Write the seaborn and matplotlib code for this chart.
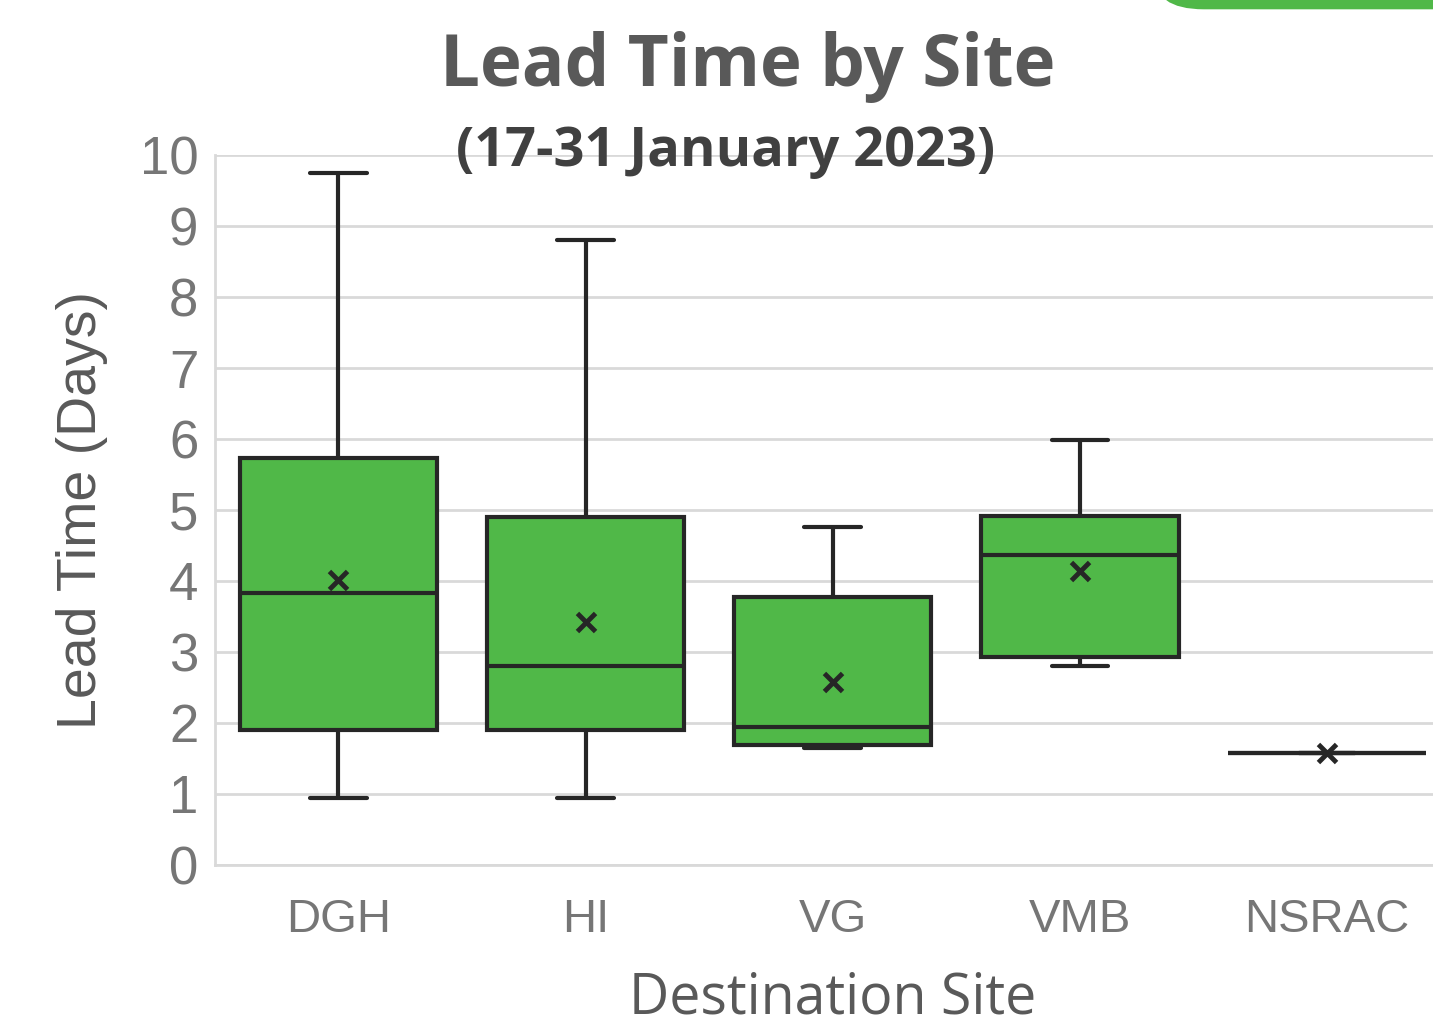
import numpy as np
import pandas as pd
import matplotlib.pyplot as plt
import seaborn as sns
from matplotlib.patches import FancyBboxPatch

# Box statistics (days)
sites = ["DGH", "HI", "VG", "VMB", "NSRAC"]
whisker_low = [0.94, 0.94, 1.65, 2.80, 1.58]
q1 = [1.90, 1.90, 1.69, 2.93, 1.58]
median = [3.83, 2.80, 1.94, 4.37, 1.58]
q3 = [5.73, 4.90, 3.77, 4.92, 1.58]
whisker_high = [9.75, 8.80, 4.76, 5.99, 1.58]
mean = [4.01, 3.42, 2.58, 4.14, 1.58]

GREEN = "#50B848"
DARK = "#262626"
GREY_TXT = "#767676"
TITLE_GREY = "#595959"

# five points per site -> min, q1, median, q3, max with linear percentiles
rows = []
for i, s in enumerate(sites):
    for v in (whisker_low[i], q1[i], median[i], q3[i], whisker_high[i]):
        rows.append({"site": s, "days": v})
df = pd.DataFrame(rows)

sns.set_theme(style="whitegrid")
plt.rcParams["font.family"] = ["Liberation Sans", "DejaVu Sans"]

fig = plt.figure(figsize=(14.33, 10.35), dpi=100)
ax = fig.add_axes([0.150, 0.1643, 0.85, 0.6859])

sns.boxplot(data=df, x="site", y="days", order=sites, whis=(0, 100),
            color=GREEN, linecolor=DARK, linewidth=3, width=0.8,
            saturation=1, showfliers=False, ax=ax)

# shorter whisker caps, as in the original
for ln in ax.lines:
    xs, ys = np.asarray(ln.get_xdata(), float), np.asarray(ln.get_ydata(), float)
    if len(xs) == 2 and ys[0] == ys[1] and abs(abs(xs[1] - xs[0]) - 0.4) < 0.01:
        c = xs.mean()
        ln.set_xdata([c - 0.114, c + 0.114])

sns.scatterplot(x=sites, y=mean, marker="x", s=170, color=DARK,
                linewidth=3.5, zorder=5, ax=ax)

ax.set_ylim(0, 10)
ax.set_xlim(-0.5, 4.43)
ax.set_yticks(range(0, 11))
ax.set_facecolor("white")
ax.grid(axis="y", color="#D9D9D9", linewidth=2)
ax.grid(axis="x", visible=False)
for side in ["top", "right"]:
    ax.spines[side].set_visible(False)
for side in ["left", "bottom"]:
    ax.spines[side].set_visible(True)
    ax.spines[side].set_color("#D9D9D9")
    ax.spines[side].set_linewidth(2)
ax.tick_params(axis="x", length=0, labelsize=34, labelcolor=GREY_TXT, pad=24)
ax.tick_params(axis="y", length=0, labelsize=38, labelcolor=GREY_TXT, pad=12)

ax.set_ylabel("Lead Time (Days)", fontsize=40, color=TITLE_GREY)
ax.yaxis.set_label_coords(-0.088, 0.5)
ax.set_xlabel("Destination Site", fontsize=40, color=TITLE_GREY,
              family=["Open Sans", "DejaVu Sans"])
ax.xaxis.set_label_coords(0.507, -0.148)

fig.text(0.522, 0.935, "Lead Time by Site", ha="center", va="center",
         fontsize=51, fontweight="bold", color=TITLE_GREY,
         family=["Open Sans", "DejaVu Sans"])
fig.text(0.506, 0.853, "(17-31 January 2023)", ha="center", va="center",
         fontsize=39, fontweight="bold", color="#404040",
         family=["Open Sans", "DejaVu Sans"])

# decorative green tab in the top-right corner
tab = FancyBboxPatch((0.805, 0.991), 0.25, 0.05, boxstyle="round,pad=0,rounding_size=0.035",
                     transform=fig.transFigure, facecolor=GREEN, edgecolor="none",
                     clip_on=False)
fig.patches.append(tab)

fig.savefig("out.png", dpi=100)
